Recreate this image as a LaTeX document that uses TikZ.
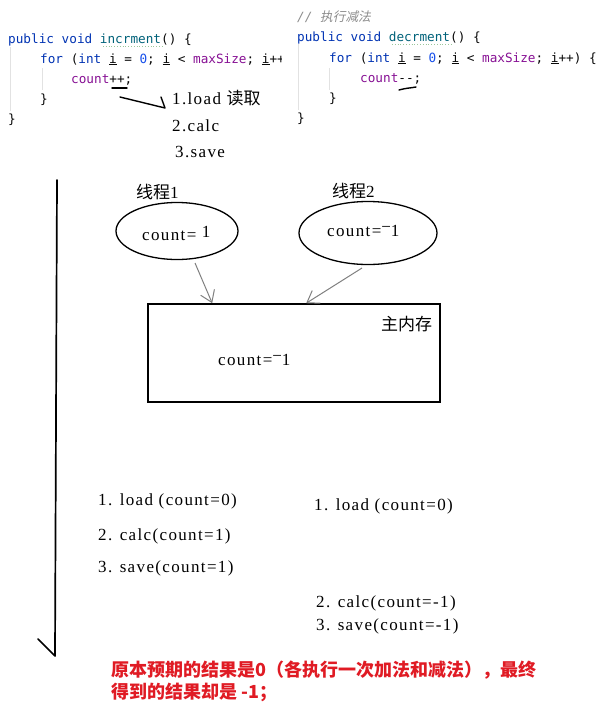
\documentclass[tikz,border=0pt]{standalone}
\usepackage{fontspec}
\setmainfont{Liberation Serif}
\setmonofont{DejaVu Sans Mono}
\newfontfamily\cjk{Noto Sans CJK SC}
\newfontfamily\cjkit[FakeSlant=0.2]{Noto Sans CJK SC}
\newfontfamily\spacedserif[LetterSpace=8]{Liberation Serif}
\usetikzlibrary{arrows.meta,shapes.geometric,calc}
\definecolor{kw}{HTML}{0033B3}
\definecolor{fn}{HTML}{00627A}
\definecolor{fld}{HTML}{871094}
\definecolor{num}{HTML}{1750EB}
\definecolor{cmt}{HTML}{8C8C8C}
\definecolor{punct}{HTML}{080808}
\definecolor{guide}{HTML}{E2E2E2}
\definecolor{typo}{HTML}{9CC79C}
\definecolor{note}{HTML}{E01B24}
\definecolor{conn}{HTML}{808080}
\tikzset{
  code/.style={anchor=base west, inner sep=0pt, text=punct, font=\ttfamily\fontsize{12.7}{14}\selectfont},
  txt/.style={anchor=base west, inner sep=0pt, font=\spacedserif\fontsize{17}{20}\selectfont},
  cjktxt/.style={anchor=base west, inner sep=0pt, font=\fontsize{17}{20}\selectfont},
  ell/.style={draw, line width=1.3pt, ellipse, inner sep=0pt},
  membox/.style={draw, line width=1.6pt, rectangle, inner sep=0pt, minimum width=292pt, minimum height=98pt},
  conarrow/.style={draw=conn, line width=1pt, -{Straight Barb[length=11pt,width=15pt]}},
  handline/.style={line width=1.4pt, line cap=round, line join=round},
  guideline/.style={draw=guide, line width=0.8pt},
  typoline/.style={draw=typo, line width=0.8pt, dotted}
}
\newcommand{\highminus}{\raisebox{3.5pt}{−}}
\begin{document}
\begin{tikzpicture}[x=1pt, y=-1pt]
\useasboundingbox (0,0) rectangle (609,715);
\fill[white] (0,0) rectangle (609,715);

% ---------- left code ----------
\draw[guideline] (10,47) -- (10,111);
\draw[guideline] (42,68) -- (42,90);
\draw[typoline] (103,46.5) -- (163,46.5);
\begin{scope}
\clip (0,0) rectangle (281,130);
\node[code] (lc1) at (8,43) {\textcolor{kw}{public void} \textcolor{fn}{incrment}() \{};
\node[code] (lc2) at (40,63) {\textcolor{kw}{for} (\textcolor{kw}{int} \underline{i} = \textcolor{num}{0}; \underline{i} < \textcolor{fld}{maxSize}; \underline{i}++) \{};
\end{scope}
\node[code] (lc3) at (71,83) {\textcolor{fld}{count}++;};
\node[code] (lc4) at (40,103) {\}};
\node[code] (lc5) at (8,123) {\}};

% ---------- right code ----------
\draw[guideline] (298,44) -- (298,110);
\draw[guideline] (329,68) -- (329,90);
\draw[typoline] (392,44.5) -- (452,44.5);
\node[code, text=cmt] (rc0) at (297,21) {\textit{//} {\cjkit 执行减法}};
\node[code] (rc1) at (297,41) {\textcolor{kw}{public void} \textcolor{fn}{decrment}() \{};
\node[code] (rc2) at (329,62) {\textcolor{kw}{for} (\textcolor{kw}{int} \underline{i} = \textcolor{num}{0}; \underline{i} < \textcolor{fld}{maxSize}; \underline{i}++) \{};
\node[code] (rc3) at (360,82) {\textcolor{fld}{count}--;};
\node[code] (rc4) at (329,102) {\}};
\node[code] (rc5) at (297,122) {\}};

% hand-drawn marks
\draw[handline] (112,88) -- (127,88);
\draw[handline] (399,90) .. controls (406,88) and (411,88) .. (416,87);

% steps
\node[txt] (s1) at (172,104) {1.load {\cjk 读取}};
\node[txt] (s2) at (172,131) {2.calc};
\node[txt] (s3) at (175,157) {3.save};
\coordinate (pp) at (120,97);
\coordinate (pptip) at (165,108);
\draw[handline] (pp) -- (pptip) -- ($(pptip)+(-4,-11)$);

% timeline arrow
\coordinate (tl0) at (57,180);
\coordinate (tl1) at (55,656);
\draw[handline, line width=1.7pt] (tl0) -- (tl1) -- ($(tl1)+(-17,-17)$);

% threads
\node[cjktxt] (th1) at (136,198) {{\cjk 线程}1};
\node[cjktxt] (th2) at (332,197) {{\cjk 线程}2};
\node[ell, minimum width=122pt, minimum height=57pt] (e1) at (177,231) {};
\node[ell, minimum width=138pt, minimum height=63pt] (e2) at (368,233) {};
\node[txt] (e1t) at (142,240) {count= \raisebox{3pt}{1}};
\node[txt] (e2t) at (327,236) {count=\highminus1};

% main memory
\node[membox] (mem) at (294,353) {};
\node[cjktxt] (memlbl) at (381,330) {{\cjk 主内存}};
\node[txt] (memt) at (218,365) {count=\highminus1};

\coordinate (a1s) at (195,263);
\coordinate (a2s) at (362,268);
\draw[conarrow] (a1s) -- ($(mem.north west)+(65,0)$);
\draw[conarrow] (a2s) -- ($(mem.north west)+(159,0)$);

% lower step lists
\node[txt] (b1) at (98,505) {1. load (count=0)};
\node[txt] (b2) at (98,540) {2. calc(count=1)};
\node[txt] (b3) at (98,572) {3. save(count=1)};
\node[txt] (c1) at (314,510) {1. load (count=0)};
\node[txt] (c2) at (316,607) {2. calc(count=-1)};
\node[txt] (c3) at (316,630) {3. save(count=-1)};

% conclusion
\node[anchor=base west, inner sep=0pt, text=note, font=\cjk\bfseries\fontsize{18}{22}\selectfont] (n1) at (111,676) {原本预期的结果是0（各执行一次加法和减法），最终};
\node[anchor=base west, inner sep=0pt, text=note, font=\cjk\bfseries\fontsize{18}{22}\selectfont] (n2) at (111,698) {得到的结果却是 -1；};
\end{tikzpicture}
\end{document}
